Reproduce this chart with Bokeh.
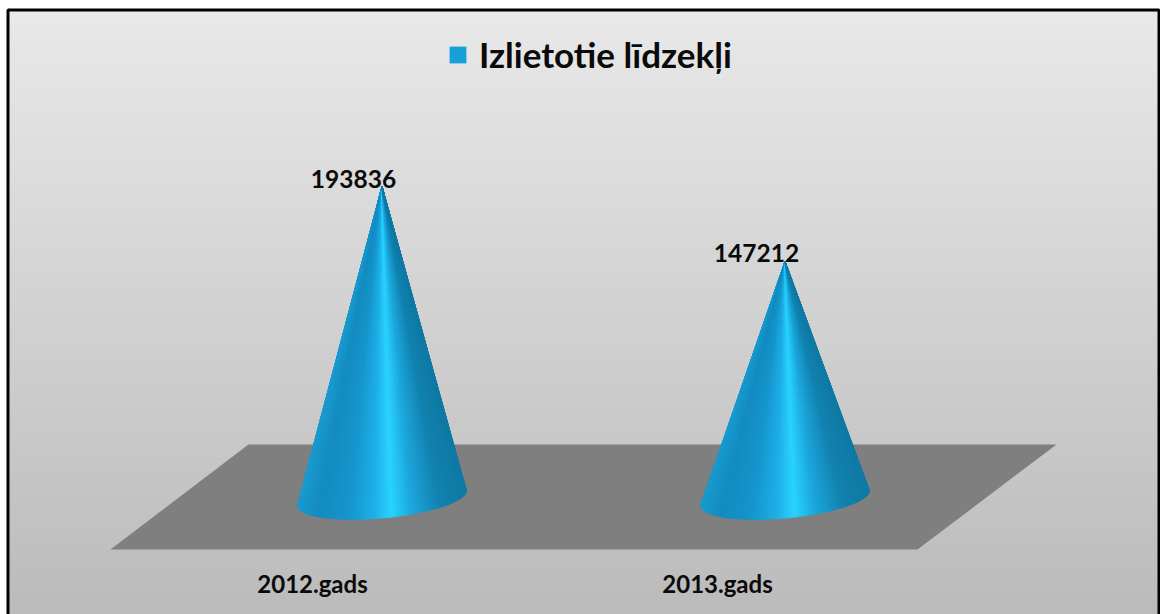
from bokeh.plotting import figure
from bokeh.models import Range1d, Legend, LegendItem
from bokeh.core.properties import value
from bokeh.embed import file_html
from bokeh.resources import INLINE
import numpy as np

categories = ["2012.gads", "2013.gads"]
spent = [193836, 147212]
series_name = "Izlietotie līdzekļi"

W, H = 1160, 614
BASE_PX = 497.5           # image y of value 0 (cone base centre)
UNITS_PER_PX = 193836 / 311.5

def yv(py):
    return (BASE_PX - py) * UNITS_PER_PX

cone_x = [381.5, 784.5]
label_x = [353, 756]
cat_x = [312, 717]
HALF_W, TILT, MINOR = 84.5, 7.5, 20

p = figure(width=W, height=H, output_backend="svg", toolbar_location=None,
           x_range=Range1d(0, W), y_range=Range1d(yv(H), yv(0)),
           min_border=0, outline_line_color=None, background_fill_color="#ffffff",
           border_fill_color=None)
p.axis.visible = False
p.grid.visible = False

# background gradient
edges = np.arange(10, H + 1, 4.0)
t = (edges[:-1] - 10) / 604
shade = (233 - (233 - 187) * t).astype(int)
p.quad(left=8, right=1159, top=yv(edges[:-1] - 0.5), bottom=yv(edges[1:]),
       color=[f"#{s:02x}{s:02x}{s:02x}" for s in shade], line_color=None)

# floor
p.patch([248, 1056, 917, 110], [yv(444), yv(444), yv(549), yv(549)], color="#7f7f7f", line_color=None)

# cone shading
stops_t = [0.0, 0.12, 0.30, 0.45, 0.56, 0.68, 0.85, 1.0]
stops_c = [(26, 155, 208), (20, 140, 192), (22, 150, 205), (30, 175, 232), (42, 212, 255),
           (28, 168, 222), (18, 130, 176), (15, 122, 165)]
stops_c = np.array(stops_c, float)

def cone(cx, val):
    th = np.linspace(np.pi, 2 * np.pi, 121)
    bx = cx + HALF_W * np.cos(th)
    by = BASE_PX - MINOR * np.sin(th) - TILT * np.cos(th)
    xs, ys, cols = [], [], []
    for i in range(len(th) - 1):
        f = (0.5 * (bx[i] + bx[i + 1]) - (cx - HALF_W)) / (2 * HALF_W)
        c = [int(np.interp(f, stops_t, stops_c[:, k])) for k in range(3)]
        xs.append([cx, bx[i], bx[i + 1]])
        ys.append([val, yv(by[i]), yv(by[i + 1])])
        cols.append("#%02x%02x%02x" % tuple(c))
    p.patches(xs, ys, fill_color=cols, line_color=cols, line_width=1)

for cx, val in zip(cone_x, spent):
    cone(cx, val)

font = value("Lato")
p.text(label_x, [yv(178), yv(252)], text=[str(v) for v in spent], text_font=font,
       text_font_style="bold", text_font_size="24.5px", text_align="center", text_baseline="middle",
       text_color="#0a0a0a")
p.text(cat_x, [yv(583)] * 2, text=categories, text_font=font, text_font_style="bold",
       text_font_size="24px", text_align="center", text_baseline="middle", text_color="#0a0a0a")

# frame
p.multi_line([[7.5, 7.5, 1158.5, 1158.5]], [[yv(614), yv(9.5), yv(9.5), yv(614)]], line_color="#000000", line_width=3)

# legend
swatch = p.quad(left=[0], right=[0], top=[0], bottom=[0], fill_color="#17a0d8", line_color=None)
leg = Legend(items=[LegendItem(label=series_name, renderers=[swatch])], location=(447, 539),
             background_fill_alpha=0, border_line_color=None, label_text_font="Lato",
             label_text_font_style="bold", label_text_font_size="35px", label_text_color="#0a0a0a",
             glyph_width=21, glyph_height=21, padding=8, margin=0, label_standoff=11)
p.add_layout(leg, "center")

open("out.html", "w").write(file_html(p, INLINE))
